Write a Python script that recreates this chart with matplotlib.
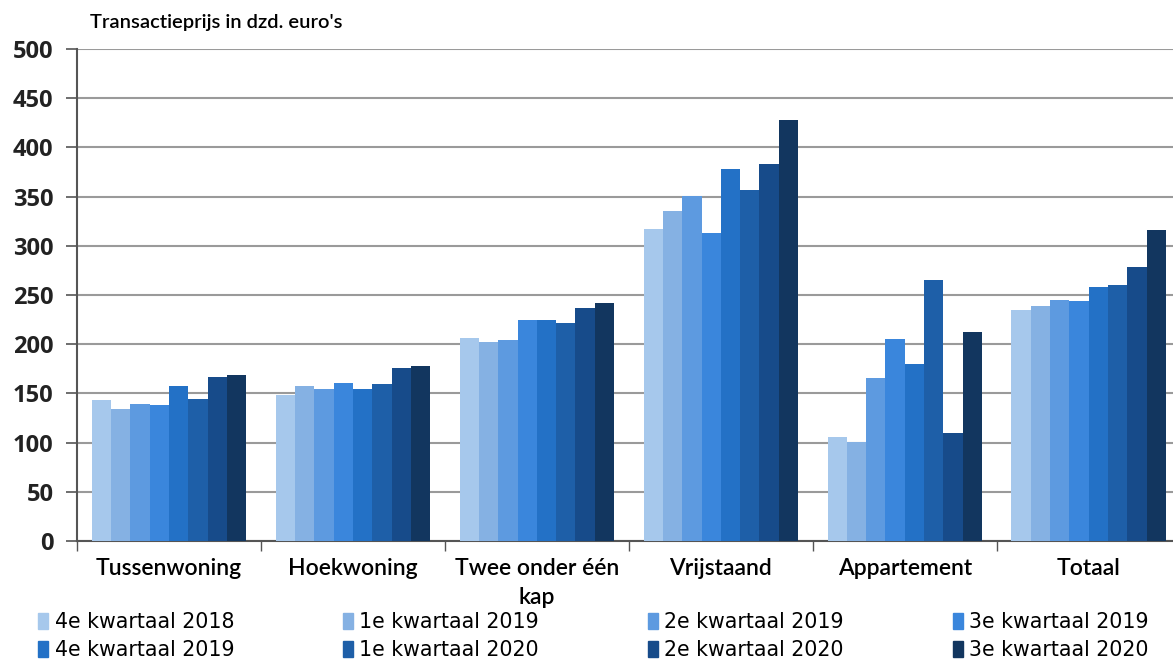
import numpy as np
import matplotlib.pyplot as plt
from matplotlib.patches import Patch

categories = ['Tussenwoning', 'Hoekwoning', 'Twee onder één\nkap',
              'Vrijstaand', 'Appartement', 'Totaal']
quarters = ['4e kwartaal 2018', '1e kwartaal 2019', '2e kwartaal 2019', '3e kwartaal 2019',
            '4e kwartaal 2019', '1e kwartaal 2020', '2e kwartaal 2020', '3e kwartaal 2020']

# prijzen per kwartaal (dzd. euro's), één lijst per woningtype
tussenwoning = [143, 134, 139, 138, 158, 144, 167, 169]
hoekwoning = [148, 158, 155, 161, 155, 160, 176, 178]
twee_onder_een_kap = [206, 202, 204, 225, 225, 222, 237, 242]
vrijstaand = [317, 335, 351, 313, 378, 357, 383, 428]
appartement = [106, 101, 166, 205, 180, 265, 110, 212]
totaal = [235, 239, 245, 244, 258, 260, 279, 316]

colors = ['#a6c8ec', '#85b1e3', '#5d9ae0', '#3a86dc',
          '#2371c6', '#1e5fa8', '#174b8a', '#12365f']

data = np.array([tussenwoning, hoekwoning, twee_onder_een_kap,
                 vrijstaand, appartement, totaal])

fig = plt.figure(figsize=(11.73, 6.63), dpi=100)
ax = fig.add_axes([0.0656, 0.184, 0.941, 0.742])

x = np.arange(len(categories))
w = 0.105
for i in range(len(quarters)):
    ax.bar(x + (i - 3.5) * w, data[:, i], width=w, color=colors[i],
           label=quarters[i], zorder=3)

ax.set_xlim(-0.5, 5.5)
ax.set_ylim(0, 500)
ax.set_yticks(range(0, 501, 50))
ax.grid(axis='y', color='#9a9a9a', linewidth=1.5, zorder=0)
ax.set_axisbelow(True)

for s in ['top', 'right']:
    ax.spines[s].set_visible(False)
for s in ['left', 'bottom']:
    ax.spines[s].set_color('#555555')
    ax.spines[s].set_linewidth(1.5)

ax.set_xticks(x)
ax.set_xticklabels(categories, fontsize=16.5, family='Lato', fontweight='semibold',
                   linespacing=1.5)
ax.tick_params(axis='x', length=0, pad=12)
ax.set_xticks(np.arange(-0.5, 6, 1), minor=True)
ax.tick_params(axis='x', which='minor', length=7, color='#555555', width=1)
ax.tick_params(axis='y', length=8, color='#555555', width=1.2, pad=9)
for lbl in ax.get_yticklabels():
    lbl.set_fontsize(17)
    lbl.set_family('Open Sans')
    lbl.set_fontweight('bold')
    lbl.set_color('#222222')

fig.text(0.077, 0.966, "Transactieprijs in dzd. euro's", fontsize=14.5,
         family='Lato', fontweight='semibold', va='center')

handles = [Patch(color=c) for c in colors]
order = [0, 4, 1, 5, 2, 6, 3, 7]
fig.legend([handles[i] for i in order], [quarters[i] for i in order],
           ncol=4, loc='lower left', bbox_to_anchor=(0.022, -0.014, 0.968, 0.1),
           mode='expand', frameon=False, fontsize=14.8, handlelength=0.5,
           handleheight=0.8, handletextpad=0.3, labelspacing=0.38,
           borderaxespad=0.2)

fig.savefig('out.png', dpi=100)
